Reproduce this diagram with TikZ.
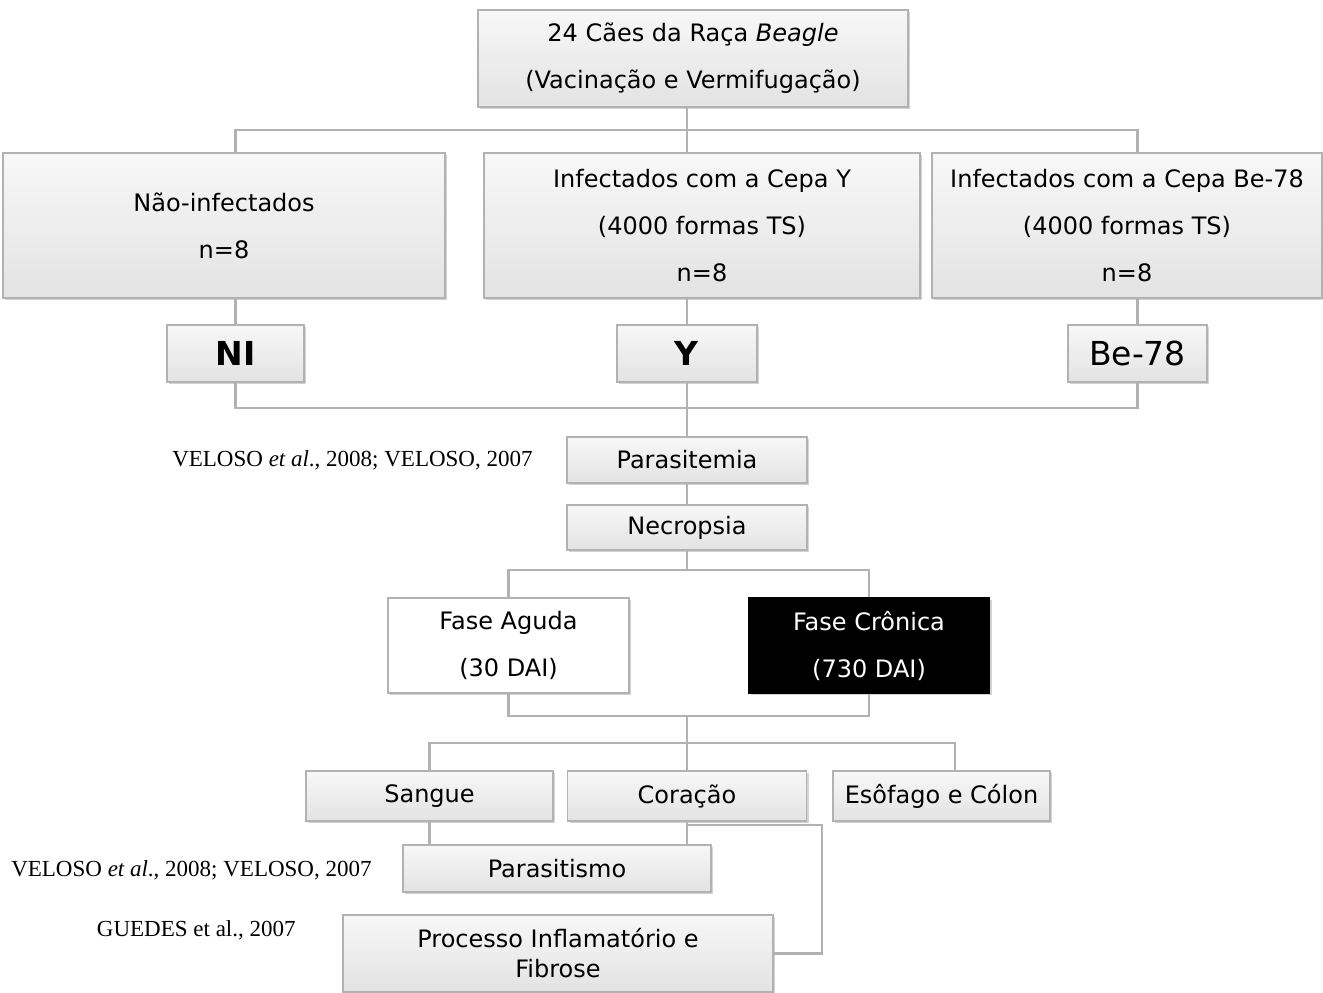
\documentclass[tikz,border=0pt]{standalone}
\usepackage{fontspec}
\setmainfont{DejaVu Sans}
\newfontfamily\citefont{Liberation Serif}
\usetikzlibrary{shadows}

\tikzset{
  bevelbox/.style={draw=gray!60, line width=0.6pt, top color=gray!6, bottom color=gray!22,
    middle color=gray!14, drop shadow={shadow xshift=1.2pt, shadow yshift=-1.2pt, opacity=0.35},
    align=center, inner sep=0pt, font=\fontsize{12}{23.5}\selectfont},
  whitebox/.style={bevelbox, top color=white, bottom color=white, middle color=white},
  blackbox/.style={bevelbox, draw=black, top color=black, bottom color=black, middle color=black, text=white},
  tagbox/.style={bevelbox, font=\fontsize{16.5}{18}\selectfont},
  link/.style={draw=gray!60, line width=1.4pt},
  citetext/.style={font=\citefont\fontsize{11.5}{13}\selectfont, inner sep=0pt}
}

\begin{document}
\begin{tikzpicture}[x=0.5pt,y=-0.5pt]
  \useasboundingbox (0,0) rectangle (1323,992);
  % boxes
  \node[bevelbox, minimum width=215pt, minimum height=48.5pt] (dogs) at (693,58.5)
    {24 Cães da Raça \textit{Beagle}\\(Vacinação e Vermifugação)};
  \node[bevelbox, minimum width=221pt, minimum height=72.5pt] (nonInf) at (224,225.5)
    {Não-infectados\\n=8};
  \node[bevelbox, minimum width=218pt, minimum height=72.5pt] (infY) at (702,225.5)
    {Infectados com a Cepa Y\\(4000 formas TS)\\n=8};
  \node[bevelbox, minimum width=195pt, minimum height=72.5pt] (infBe) at (1127,225.5)
    {Infectados com a Cepa Be-78\\(4000 formas TS)\\n=8};
  \node[tagbox, minimum width=68.5pt, minimum height=28.5pt] (tagNI) at (235.5,353.5) {\textbf{NI}};
  \node[tagbox, minimum width=70pt, minimum height=28.5pt] (tagY) at (687,353.5) {\textbf{Y}};
  \node[tagbox, minimum width=69.5pt, minimum height=28.5pt] (tagBe) at (1137.5,353.5) {Be-78};
  \node[bevelbox, minimum width=120pt, minimum height=23pt] (paras) at (687,460) {Parasitemia};
  \node[bevelbox, minimum width=120pt, minimum height=22.5pt] (necro) at (687,527.5) {Necropsia};
  \node[whitebox, minimum width=120.5pt, minimum height=47.5pt] (aguda) at (508.5,645.5)
    {Fase Aguda\\(30 DAI)};
  \node[blackbox, minimum width=120.5pt, minimum height=47.5pt] (cronica) at (869,645.5)
    {Fase Crônica\\(730 DAI)};
  \node[bevelbox, minimum width=123.5pt, minimum height=25pt] (sangue) at (429.5,796) {Sangue};
  \node[bevelbox, minimum width=119.5pt, minimum height=25pt] (coracao) at (687,796) {Coração};
  \node[bevelbox, minimum width=108.5pt, minimum height=25pt] (esof) at (941.5,796) {Esôfago e Cólon};
  \node[bevelbox, minimum width=154pt, minimum height=23.5pt] (parasit) at (557,868.5) {Parasitismo};
  \node[bevelbox, minimum width=215pt, minimum height=38.5pt, font=\fontsize{12}{15}\selectfont]
    (process) at (558,953.5) {Processo Inflamatório e\\Fibrose};
  % references
  \node[citetext, anchor=east] (ref1) at (533,460) {VELOSO \textit{et al}., 2008; VELOSO, 2007};
  \node[citetext, anchor=east] (ref2) at (372,870) {VELOSO \textit{et al}., 2008; VELOSO, 2007};
  \node[citetext, anchor=east] (ref3) at (296,930) {GUEDES et al., 2007};
  % junctions
  \coordinate (j1) at (687,130);
  \coordinate (j2) at (687,408);
  \coordinate (j3) at (687,570);
  \coordinate (j4) at (687,716);
  \coordinate (j5) at (687,743);
  \coordinate (j6) at (822,825);
  % connectors
  \draw[link] (tagY |- dogs.south) -- (tagY |- infY.north);
  \draw[link] (tagNI |- nonInf.north) |- (j1) -| (tagBe |- infBe.north);
  \draw[link] (tagNI |- nonInf.south) -- (tagNI.north);
  \draw[link] (tagY |- infY.south) -- (tagY.north);
  \draw[link] (tagBe |- infBe.south) -- (tagBe.north);
  \draw[link] (tagNI.south) |- (j2) -| (tagBe.south);
  \draw[link] (tagY.south) -- (paras.north);
  \draw[link] (paras.south) -- (necro.north);
  \draw[link] (necro.south) -- (j3);
  \draw[link] (aguda.north) |- (j3) -| (cronica.north);
  \draw[link] (aguda.south) |- (j4) -| (cronica.south);
  \draw[link] (j4) -- (j5);
  \draw[link] (sangue.north) |- (j5) -| ([xshift=6.75pt]esof.north);
  \draw[link] (j5) -- (coracao.north);
  \draw[link] (sangue.south) -- (sangue.south |- parasit.north);
  \draw[link] (coracao.south) -- (coracao.south |- parasit.north);
  \draw[link] (coracao.south |- j6) -- (j6) |- (process.east);
\end{tikzpicture}
\end{document}
